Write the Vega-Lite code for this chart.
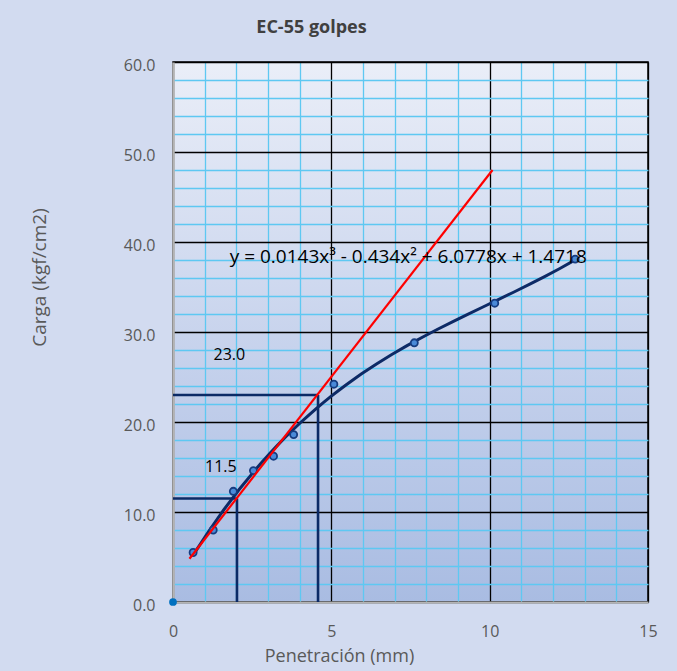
{
  "$schema": "https://vega.github.io/schema/vega-lite/v6.json",
  "width": 475,
  "height": 540,
  "autosize": "none",
  "padding": {"left": 173, "top": 62, "right": 29, "bottom": 69},
  "background": "#d2dbf0",
  "title": {"text": "EC-55 golpes", "font": "Open Sans", "fontSize": 18, "fontWeight": "bold", "color": "#404040", "anchor": "middle", "dx": -99, "offset": 20},
  "datasets": {
    "pts": [
      {"x": 0.635, "y": 5.5}, {"x": 1.27, "y": 8.0}, {"x": 1.905, "y": 12.3}, {"x": 2.54, "y": 14.6},
      {"x": 3.175, "y": 16.2}, {"x": 3.81, "y": 18.6}, {"x": 5.08, "y": 24.2}, {"x": 7.62, "y": 28.8},
      {"x": 10.16, "y": 33.2}, {"x": 12.7, "y": 38.1}
    ],
    "origin": [{"x": 0, "y": 0}],
    "tangent": [{"x": 0.52, "y": 4.8}, {"x": 10.09, "y": 48.0}],
    "refs": [
      {"x": 0, "x2": 2.02, "y": 11.5, "y2": 11.5},
      {"x": 2.02, "x2": 2.02, "y": 0, "y2": 11.5},
      {"x": 0, "x2": 4.58, "y": 23.0, "y2": 23.0},
      {"x": 4.58, "x2": 4.58, "y": 0, "y2": 23.0}
    ],
    "labels": [{"x": 1.78, "y": 27.5, "label": "23.0"}, {"x": 1.51, "y": 15.0, "label": "11.5"}],
    "eq": [{"x": 1.79, "y": 38.3, "label": "y = 0.0143x³ - 0.434x² + 6.0778x + 1.4718"}]
  },
  "encoding": {
    "x": {
      "field": "x", "type": "quantitative",
      "scale": {"domain": [0, 15], "nice": false, "zero": false},
      "title": "Penetración (mm)",
      "axis": {
        "values": [0,1,2,3,4,5,6,7,8,9,10,11,12,13,14,15],
        "labelExpr": "datum.value % 5 === 0 ? datum.label : ''",
        "labelFlush": false,
        "grid": true,
        "gridColor": {"condition": {"test": "datum.value % 5 === 0", "value": "#000000"}, "value": "#5ec8f2"},
        "gridWidth": 1.3,
        "gridOpacity": 1,
        "ticks": false,
        "domainColor": "#b4b4b4",
        "domainWidth": 2,
        "labelFont": "Open Sans",
        "labelFontSize": 16,
        "labelColor": "#595959",
        "labelPadding": 21,
        "titleFont": "Open Sans",
        "titleFontSize": 18,
        "titleFontWeight": "normal",
        "titleColor": "#595959",
        "titleX": 166,
        "titleY": 54,
        "titleAlign": "center",
        "titleBaseline": "middle"
      }
    },
    "y": {
      "field": "y", "type": "quantitative",
      "scale": {"domain": [0, 60], "nice": false},
      "title": "Carga (kgf/cm2)",
      "axis": {
        "values": [0,2,4,6,8,10,12,14,16,18,20,22,24,26,28,30,32,34,36,38,40,42,44,46,48,50,52,54,56,58,60],
        "labelExpr": "datum.value % 10 === 0 ? format(datum.value, '.1f') : ''",
        "labelFlush": false,
        "grid": true,
        "gridColor": {"condition": {"test": "datum.value % 10 === 0", "value": "#000000"}, "value": "#5ec8f2"},
        "gridWidth": 1.3,
        "gridOpacity": 1,
        "ticks": false,
        "domainColor": "#b4b4b4",
        "domainWidth": 2.5,
        "labelFont": "Open Sans",
        "labelFontSize": 16,
        "labelColor": "#595959",
        "labelPadding": 18,
        "labelOffset": 3,
        "titleFont": "Open Sans",
        "titleFontSize": 19,
        "titleFontWeight": "normal",
        "titleColor": "#595959",
        "titleX": -134,
        "titleY": 215,
        "titleAlign": "center",
        "titleBaseline": "middle",
        "titleAngle": 270
      }
    }
  },
  "layer": [
    {
      "data": {"name": "refs"},
      "mark": {"type": "rule", "color": "#0b2a66", "strokeWidth": 2.6},
      "encoding": {"x2": {"field": "x2"}, "y2": {"field": "y2"}}
    },
    {
      "data": {"name": "pts"},
      "transform": [{"regression": "y", "on": "x", "method": "poly", "order": 3, "extent": [0.635, 12.7]}],
      "mark": {"type": "line", "color": "#0d2a66", "strokeWidth": 3}
    },
    {
      "data": {"name": "pts"},
      "mark": {"type": "point", "shape": "circle", "filled": true, "fill": "#4a8ad8", "stroke": "#163c80", "strokeWidth": 1.8, "size": 50, "opacity": 1}
    },
    {
      "data": {"name": "origin"},
      "mark": {"type": "point", "shape": "circle", "filled": true, "color": "#0070c0", "size": 60, "opacity": 1}
    },
    {
      "data": {"name": "tangent"},
      "mark": {"type": "line", "color": "#ff0000", "strokeWidth": 2.2}
    },
    {
      "data": {"name": "labels"},
      "mark": {"type": "text", "font": "Open Sans", "fontSize": 16, "color": "#000000", "align": "center", "baseline": "middle"},
      "encoding": {"text": {"field": "label"}}
    },
    {
      "data": {"name": "eq"},
      "mark": {"type": "text", "font": "Open Sans", "fontSize": 19, "color": "#000000", "align": "left", "baseline": "middle"},
      "encoding": {"text": {"field": "label"}}
    }
  ],
  "config": {
    "view": {
      "stroke": "#000000",
      "strokeWidth": 1.5,
      "fill": {"gradient": "linear", "x1": 0, "y1": 0, "x2": 0, "y2": 1, "stops": [{"offset": 0, "color": "#eaeef8"}, {"offset": 0.6, "color": "#c2cfeb"}, {"offset": 1, "color": "#a9bce2"}]}
    },
    "font": "Open Sans"
  }
}
